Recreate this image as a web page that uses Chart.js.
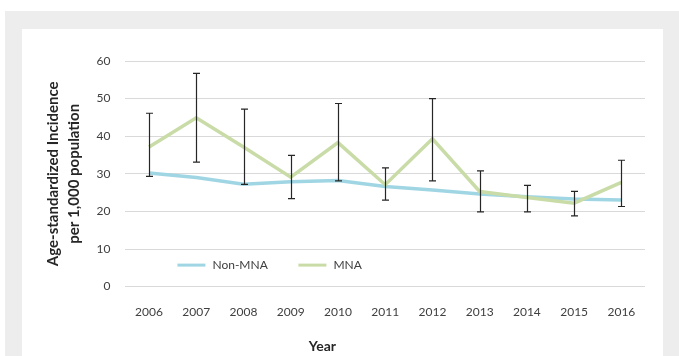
<!DOCTYPE html>
<html>
<head>
<meta charset="utf-8">
<script src="https://cdn.jsdelivr.net/npm/chart.js@4.4.1/dist/chart.umd.min.js"></script>
<style>
    html, body { margin: 0; padding: 0; background: #ffffff; }
    #frame {
        position: absolute; left: 5px; top: 11px; width: 674px; height: 345px;
        background: #ededed;
    }
    #panel {
        position: absolute; left: 17px; top: 18px; width: 641px; height: 327px;
        background: #ffffff;
    }
    #incidenceChart { display: block; }
</style>
</head>
<body>
<div id="frame">
    <div id="panel">
        <canvas id="incidenceChart" width="641" height="327"></canvas>
    </div>
</div>
<script>
// Incidence per 1,000 population by year
var years = ["2006", "2007", "2008", "2009", "2010", "2011", "2012", "2013", "2014", "2015", "2016"];
var nonMna = [30.2, 29.0, 27.2, 27.9, 28.2, 26.6, 25.7, 24.6, 23.9, 23.3, 23.0];
var mna = [37.1, 44.9, 37.1, 29.1, 38.3, 27.1, 39.3, 25.3, 23.7, 22.2, 27.7];
// 95% interval for MNA
var mnaHigh = [46.1, 56.7, 47.2, 34.9, 48.7, 31.6, 50.0, 30.8, 26.9, 25.3, 33.6];
var mnaLow = [29.3, 33.1, 27.2, 23.4, 28.1, 23.0, 28.1, 19.9, 19.9, 18.8, 21.3];
var yTicks = [0, 10, 20, 30, 40, 50, 60];

var fontFamily = "Lato, 'Open Sans', sans-serif";
var textColor = "#404040";

// whiskers for the MNA series
var errorBars = {
    id: "errorBars",
    afterDatasetsDraw: function (chart) {
        var ctx = chart.ctx;
        var x = chart.scales.x;
        var y = chart.scales.y;
        ctx.save();
        ctx.strokeStyle = "#262626";
        ctx.lineWidth = 1.2;
        for (var i = 0; i < years.length; i++) {
            var px = Math.round(x.getPixelForValue(i)) + 0.5;
            var top = y.getPixelForValue(mnaHigh[i]);
            var bot = y.getPixelForValue(mnaLow[i]);
            ctx.beginPath();
            ctx.moveTo(px, top);
            ctx.lineTo(px, bot);
            ctx.moveTo(px - 3.5, top);
            ctx.lineTo(px + 3.5, top);
            ctx.moveTo(px - 3.5, bot);
            ctx.lineTo(px + 3.5, bot);
            ctx.stroke();
        }
        ctx.restore();
    },
};

// legend sits inside the plot, just above the zero line;
// the x axis title is set left of centre, so it is drawn here too
var innerLegend = {
    id: "innerLegend",
    afterDraw: function (chart) {
        var ctx = chart.ctx;
        var area = chart.chartArea;
        var ly = area.bottom - 21.5;
        var items = [
            { label: "Non-MNA", color: "#a0d6e3", x: area.left + 52 },
            { label: "MNA", color: "#c9dca7", x: area.left + 173 },
        ];
        ctx.save();
        ctx.font = "12px " + fontFamily;
        ctx.textBaseline = "middle";
        items.forEach(function (it) {
            ctx.strokeStyle = it.color;
            ctx.lineWidth = 3;
            ctx.beginPath();
            ctx.moveTo(it.x, ly);
            ctx.lineTo(it.x + 28, ly);
            ctx.stroke();
            ctx.fillStyle = textColor;
            ctx.fillText(it.label, it.x + 35, ly);
        });

        ctx.font = "bold 14px " + fontFamily;
        ctx.fillStyle = "#262626";
        ctx.textAlign = "center";
        ctx.fillText("Year", area.left + 197, area.bottom + 60);
        ctx.restore();
    },
};

var ctx = document.getElementById("incidenceChart").getContext("2d");
new Chart(ctx, {
    type: "line",
    data: {
        labels: years,
        datasets: [
            {
                label: "Non-MNA",
                data: nonMna,
                borderColor: "#a0d6e3",
                borderWidth: 3.5,
                pointRadius: 0,
                tension: 0,
                order: 1,
            },
            {
                label: "MNA",
                data: mna,
                borderColor: "#c9dca7",
                borderWidth: 3.5,
                pointRadius: 0,
                tension: 0,
                order: 0,
            },
        ],
    },
    options: {
        responsive: false,
        animation: false,
        layout: { padding: { left: 20, right: 18, top: 32, bottom: 27 } },
        plugins: {
            legend: { display: false },
            tooltip: { enabled: false },
        },
        scales: {
            x: {
                offset: true,
                grid: { display: false },
                border: { display: false },
                ticks: {
                    color: textColor,
                    font: { family: fontFamily, size: 12 },
                    padding: 10,
                    maxRotation: 0,
                },
            },
            y: {
                min: 0,
                max: 60,
                afterBuildTicks: function (scale) {
                    scale.ticks = yTicks.map(function (v) { return { value: v }; });
                },
                grid: { color: "#d9d9d9", lineWidth: 1, drawTicks: false },
                border: { display: false },
                ticks: {
                    color: textColor,
                    font: { family: fontFamily, size: 12 },
                    padding: 15,
                },
                title: {
                    display: true,
                    text: ["Age-standardized Incidence", "per 1,000 population"],
                    color: "#262626",
                    font: { family: fontFamily, size: 15, weight: "bold", lineHeight: 1.45 },
                    padding: { top: 0, bottom: -4 },
                },
            },
        },
    },
    plugins: [errorBars, innerLegend],
});
</script>
</body>
</html>
